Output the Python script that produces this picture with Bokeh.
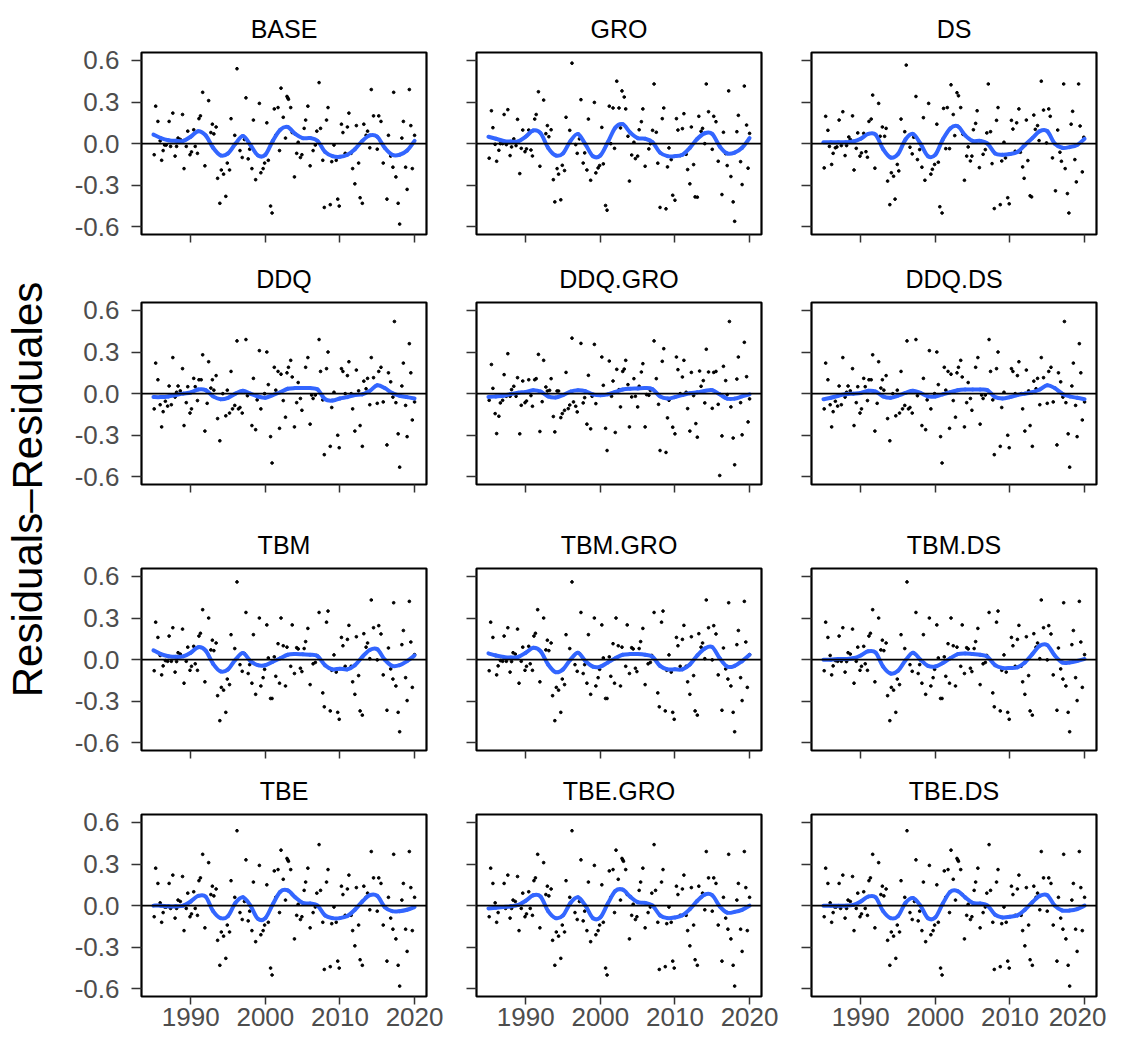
import math
from bokeh.plotting import figure
from bokeh.layouts import row, column
from bokeh.models import Range1d, Span, FixedTicker, Label, PrintfTickFormatter, CustomLabelingPolicy
from bokeh.embed import file_html
from bokeh.resources import INLINE

# ---------------- data ----------------
panel_names = [["BASE", "GRO", "DS"],
               ["DDQ", "DDQ.GRO", "DDQ.DS"],
               ["TBM", "TBM.GRO", "TBM.DS"],
               ["TBE", "TBE.GRO", "TBE.DS"]]
y_label_text = "Residuals\u2013Residuales"
y_ticks = [-0.6, -0.3, 0.0, 0.3, 0.6]
x_ticks = [1990, 2000, 2010, 2020]

# residual points (TBE.* panels look the same)
base_x = [1985.1, 1985.3, 1985.6, 1985.9, 1986.1, 1986.3, 1986.5, 1986.7, 1987.1, 1987.3, 1987.6, 1987.9,
          1988.1, 1988.3, 1988.6, 1988.9, 1989.1, 1989.4, 1989.6, 1989.9, 1990.1, 1990.4, 1990.6, 1990.9,
          1991.1, 1991.3, 1991.6, 1991.9, 1992.4, 1992.7, 1992.9, 1993.1, 1993.4, 1993.6, 1993.9, 1994.1,
          1994.4, 1994.7, 1994.9, 1995.2, 1995.4, 1995.9, 1996.2, 1996.6, 1996.9, 1997.2, 1997.4, 1997.7,
          1997.9, 1998.2, 1998.4, 1998.7, 1999.2, 1999.4, 1999.7, 1999.9, 2000.2, 2000.4, 2000.7, 2000.9,
          2001.2, 2001.4, 2001.7, 2001.9, 2002.1, 2002.4, 2002.7, 2002.9, 2003.0, 2003.1, 2003.4, 2003.6,
          2003.9, 2004.2, 2004.4, 2004.7, 2004.9, 2005.2, 2005.4, 2005.7, 2006.0, 2006.4, 2006.7, 2006.9,
          2007.2, 2007.4, 2007.7, 2007.9, 2008.2, 2008.4, 2008.7, 2008.9, 2009.2, 2009.5, 2009.7, 2009.9,
          2010.2, 2010.4, 2010.7, 2011.0, 2011.2, 2011.5, 2011.7, 2012.0, 2012.2, 2012.5, 2012.7, 2013.0,
          2013.2, 2013.5, 2013.7, 2014.0, 2014.2, 2014.5, 2015.0, 2015.2, 2015.5, 2015.8, 2016.3, 2016.5,
          2016.8, 2017.1, 2017.2, 2017.5, 2017.8, 2018.0, 2018.3, 2018.5, 2018.8, 2019.0, 2019.3, 2019.5,
          2019.7, 2020.0]
base_y = [-0.08, 0.27, 0.16, 0.02, -0.12, -0.05, -0.01, -0.01, 0.16, -0.02, 0.22, -0.09,
          -0.02, 0.04, 0.03, 0.21, -0.18, -0.02, 0.09, -0.08, -0.06, 0.10, -0.02, -0.07,
          0.18, 0.20, 0.37, -0.16, 0.31, 0.08, 0.14, 0.07, 0.12, -0.25, -0.43, -0.19,
          -0.22, -0.38, -0.14, -0.19, 0.18, 0.06, 0.54, -0.05, -0.10, 0.03, 0.33, -0.11,
          -0.04, -0.18, 0.17, -0.26, 0.29, -0.21, -0.18, -0.14, 0.15, -0.12, -0.45, -0.50,
          0.25, 0.06, 0.26, -0.05, 0.40, 0.19, 0.04, 0.34, 0.33, 0.32, 0.26, 0.08,
          -0.24, -0.07, 0.01, -0.10, -0.08, 0.11, 0.17, 0.27, -0.16, -0.05, -0.01, 0.09,
          0.44, 0.11, -0.12, -0.46, 0.17, 0.26, -0.44, -0.13, -0.01, -0.12, -0.40, -0.45,
          0.14, 0.08, -0.07, 0.12, 0.22, -0.07, -0.18, -0.29, 0.13, -0.14, -0.39, -0.43,
          0.14, 0.06, 0.09, -0.03, 0.39, 0.20, -0.04, 0.20, 0.16, -0.14, -0.40, 0.06,
          -0.09, -0.17, 0.37, -0.24, -0.43, -0.58, 0.04, 0.16, -0.17, -0.33, 0.39, 0.13,
          -0.18, 0.06]

# residual points
gro_x = [1985.1, 1985.4, 1985.6, 1985.9, 1986.1, 1986.4, 1986.6, 1986.9, 1987.1, 1987.4, 1987.6, 1987.9,
         1988.1, 1988.4, 1988.7, 1988.9, 1989.2, 1989.4, 1989.6, 1989.9, 1990.1, 1990.4, 1990.7, 1990.9,
         1991.2, 1991.4, 1991.7, 1991.9, 1992.4, 1992.7, 1992.9, 1993.1, 1993.4, 1993.7, 1993.9, 1994.2,
         1994.4, 1994.7, 1994.9, 1995.2, 1995.4, 1995.9, 1996.2, 1996.7, 1996.9, 1997.2, 1997.4, 1997.7,
         1997.9, 1998.2, 1998.4, 1998.7, 1999.2, 1999.4, 1999.7, 1999.9, 2000.2, 2000.4, 2000.7, 2000.9,
         2001.2, 2001.4, 2001.7, 2001.9, 2002.2, 2002.5, 2002.7, 2002.9, 2003.2, 2003.4, 2003.7, 2003.9,
         2004.2, 2004.5, 2004.7, 2005.0, 2005.2, 2005.5, 2005.7, 2006.0, 2006.5, 2006.7, 2007.0, 2007.2,
         2007.5, 2007.7, 2008.0, 2008.3, 2008.5, 2008.8, 2009.0, 2009.2, 2009.5, 2009.7, 2010.0, 2010.2,
         2010.4, 2010.7, 2011.0, 2011.2, 2011.5, 2011.7, 2012.0, 2012.2, 2012.5, 2012.7, 2013.0, 2013.2,
         2013.5, 2013.7, 2014.0, 2014.2, 2014.5, 2015.0, 2015.2, 2015.5, 2015.8, 2016.3, 2016.5, 2016.8,
         2017.0, 2017.2, 2017.5, 2017.8, 2018.0, 2018.3, 2018.5, 2018.8, 2019.0, 2019.3, 2019.6, 2019.8,
         2020.0]
gro_y = [-0.105, 0.237, 0.115, -0.005, -0.127, -0.048, 0.0, 0.0, 0.21, -0.007, 0.245, -0.086,
         -0.024, 0.034, -0.014, 0.175, -0.216, -0.034, 0.098, -0.058, -0.038, 0.098, -0.046, -0.089,
         0.177, 0.21, 0.374, -0.163, 0.314, 0.072, 0.13, 0.05, 0.10, -0.26, -0.42, -0.18,
         -0.22, -0.405, -0.156, -0.194, 0.19, 0.096, 0.58, -0.007, -0.07, 0.034, 0.317, -0.14,
         -0.067, -0.19, 0.177, -0.264, 0.297, -0.211, -0.175, -0.158, 0.117, -0.146, -0.446, -0.48,
         0.27, 0.0, 0.257, -0.034, 0.45, 0.257, 0.113, 0.38, 0.336, 0.25, 0.053, -0.27,
         -0.082, 0.01, -0.108, -0.09, 0.10, 0.158, 0.25, -0.163, -0.038, 0.0, 0.096, 0.43,
         0.082, -0.141, -0.46, 0.18, 0.257, -0.47, -0.168, -0.031, -0.115, -0.372, -0.408, 0.18,
         0.098, -0.086, 0.108, 0.216, -0.077, -0.187, -0.29, 0.12, -0.151, -0.384, -0.386, 0.197,
         0.089, 0.11, 0.0, 0.43, 0.23, -0.041, 0.197, 0.158, -0.127, -0.367, 0.082, -0.072,
         -0.158, 0.38, -0.237, -0.42, -0.56, 0.086, 0.204, -0.13, -0.295, 0.415, 0.134, -0.177,
         0.074]

# residual points
ds_x = [1985.1, 1985.3, 1985.6, 1985.8, 1986.1, 1986.3, 1986.6, 1986.8, 1987.1, 1987.4, 1987.6, 1987.9,
        1988.1, 1988.4, 1988.6, 1988.9, 1989.1, 1989.4, 1989.6, 1989.9, 1990.1, 1990.4, 1990.7, 1990.9,
        1991.1, 1991.4, 1991.6, 1991.9, 1992.4, 1992.6, 1992.9, 1993.2, 1993.4, 1993.6, 1993.9, 1994.1,
        1994.4, 1994.6, 1994.9, 1995.1, 1995.4, 1995.9, 1996.1, 1996.6, 1996.9, 1997.1, 1997.4, 1997.6,
        1997.9, 1998.2, 1998.4, 1998.6, 1999.1, 1999.4, 1999.6, 1999.9, 2000.2, 2000.4, 2000.6, 2000.9,
        2001.1, 2001.4, 2001.6, 2001.9, 2002.1, 2002.4, 2002.6, 2002.9, 2003.1, 2003.4, 2003.7, 2003.9,
        2004.2, 2004.4, 2004.7, 2004.9, 2005.1, 2005.4, 2005.6, 2005.9, 2006.4, 2006.7, 2006.9, 2007.1,
        2007.4, 2007.6, 2007.9, 2008.2, 2008.4, 2008.7, 2008.9, 2009.2, 2009.4, 2009.7, 2009.9, 2010.2,
        2010.4, 2010.7, 2010.9, 2011.2, 2011.4, 2011.7, 2011.9, 2012.2, 2012.4, 2012.7, 2012.9, 2013.2,
        2013.4, 2013.7, 2013.9, 2014.2, 2014.5, 2014.9, 2015.2, 2015.4, 2015.7, 2016.1, 2016.4, 2016.7,
        2016.9, 2017.2, 2017.4, 2017.7, 2017.9, 2018.2, 2018.4, 2018.7, 2018.9, 2019.2, 2019.4, 2019.7,
        2019.9]
ds_y = [-0.175, 0.197, 0.096, -0.02, -0.15, -0.07, -0.03, -0.024, 0.17, -0.014, 0.23, -0.086,
        -0.014, 0.048, 0.03, 0.20, -0.19, -0.034, 0.077, -0.09, -0.067, 0.074, -0.058, -0.098,
        0.16, 0.177, 0.35, -0.177, 0.29, 0.053, 0.12, 0.053, 0.11, -0.27, -0.44, -0.21,
        -0.235, -0.40, -0.15, -0.197, 0.177, 0.086, 0.566, -0.026, -0.074, 0.046, 0.34, -0.115,
        -0.043, -0.17, 0.187, -0.264, 0.29, -0.22, -0.185, -0.15, 0.14, -0.134, -0.455, -0.50,
        0.254, -0.036, 0.26, -0.036, 0.424, 0.21, 0.058, 0.367, 0.345, 0.26, 0.067, -0.264,
        -0.09, -0.024, -0.125, -0.09, 0.10, 0.146, 0.237, -0.173, -0.077, -0.043, 0.077, 0.43,
        0.086, -0.144, -0.468, 0.168, 0.26, -0.44, -0.125, 0.01, -0.103, -0.39, -0.434, 0.168,
        0.105, -0.055, 0.15, 0.25, -0.062, -0.168, -0.25, 0.17, -0.122, -0.376, -0.384, 0.206,
        0.103, 0.13, 0.022, 0.45, 0.242, 0.005, 0.25, 0.197, -0.103, -0.34, 0.098, -0.062,
        -0.127, 0.43, -0.18, -0.36, -0.50, 0.14, 0.233, -0.115, -0.276, 0.43, 0.127, -0.204,
        0.046]

# residual points (DDQ.DS looks the same)
ddq_x = [1985.1, 1985.3, 1985.6, 1985.9, 1986.1, 1986.3, 1986.6, 1986.9, 1987.1, 1987.4, 1987.6, 1987.9,
         1988.1, 1988.3, 1988.6, 1988.9, 1989.1, 1989.4, 1989.6, 1989.9, 1990.1, 1990.4, 1990.6, 1990.9,
         1991.1, 1991.4, 1991.6, 1991.9, 1992.2, 1992.4, 1992.7, 1992.9, 1993.1, 1993.4, 1993.6, 1993.9,
         1994.3, 1994.7, 1994.9, 1995.2, 1995.4, 1995.6, 1995.9, 1996.2, 1996.4, 1996.6, 1996.9, 1997.4,
         1997.6, 1998.2, 1998.4, 1998.7, 1998.9, 1999.2, 1999.4, 1999.9, 2000.2, 2000.4, 2000.7, 2000.9,
         2001.2, 2001.4, 2001.7, 2001.9, 2002.1, 2002.4, 2002.7, 2002.9, 2003.1, 2003.4, 2003.6, 2003.9,
         2004.2, 2004.4, 2004.7, 2004.9, 2005.4, 2005.7, 2006.0, 2006.2, 2006.4, 2006.7, 2007.2, 2007.4,
         2007.7, 2007.9, 2008.2, 2008.4, 2008.7, 2008.9, 2009.2, 2009.7, 2009.9, 2010.2, 2010.4, 2010.7,
         2011.0, 2011.2, 2011.5, 2011.7, 2012.0, 2012.2, 2012.5, 2012.7, 2013.0, 2013.2, 2013.5, 2013.7,
         2014.0, 2014.2, 2014.5, 2015.0, 2015.2, 2015.5, 2015.8, 2016.3, 2016.5, 2016.8, 2017.1, 2017.3,
         2017.5, 2017.8, 2018.0, 2018.3, 2018.5, 2018.8, 2019.0, 2019.3, 2019.5, 2019.7, 2020.0]
ddq_y = [-0.11, 0.22, 0.10, -0.08, -0.24, -0.13, -0.055, -0.09, 0.055, -0.08, 0.26, -0.025,
         0.01, 0.055, 0.02, 0.18, -0.23, -0.065, 0.05, -0.14, -0.11, 0.11, 0.05, -0.05,
         0.10, 0.10, 0.28, -0.27, -0.07, 0.23, 0.04, 0.10, 0.025, 0.13, -0.18, -0.34,
         0.0, -0.16, 0.025, -0.14, 0.16, -0.11, -0.085, 0.38, -0.11, -0.10, -0.14, 0.39,
         -0.015, -0.23, 0.11, -0.26, -0.045, 0.31, -0.11, 0.0, 0.30, 0.065, -0.31, -0.50,
         0.19, 0.025, 0.16, -0.25, 0.14, -0.05, -0.17, 0.15, 0.19, 0.24, 0.12, -0.24,
         -0.065, 0.08, -0.035, -0.12, 0.19, 0.26, -0.22, -0.01, -0.035, -0.01, 0.39, 0.16,
         -0.045, -0.44, 0.18, 0.30, -0.38, -0.10, 0.01, -0.30, -0.39, 0.18, 0.16, 0.0,
         0.13, 0.23, 0.0, -0.11, -0.27, 0.17, 0.02, -0.23, -0.38, 0.09, 0.035, 0.11,
         -0.08, 0.26, 0.115, -0.07, 0.16, 0.19, -0.06, -0.37, 0.15, 0.085, -0.025, 0.52,
         -0.065, -0.29, -0.53, 0.055, 0.22, -0.085, -0.31, 0.36, 0.15, -0.19, -0.06]

# residual points
ddqgro_x = [1985.1, 1985.4, 1985.6, 1985.9, 1986.1, 1986.4, 1986.6, 1986.9, 1987.1, 1987.4, 1987.6, 1987.9,
            1988.1, 1988.4, 1988.7, 1988.9, 1989.2, 1989.4, 1989.6, 1989.9, 1990.1, 1990.4, 1990.7, 1990.9,
            1991.2, 1991.4, 1991.7, 1991.9, 1992.2, 1992.4, 1992.7, 1992.9, 1993.2, 1993.4, 1993.7, 1993.9,
            1994.2, 1994.4, 1994.7, 1994.9, 1995.2, 1995.4, 1995.7, 1995.9, 1996.2, 1996.4, 1996.7, 1996.9,
            1997.4, 1997.7, 1997.9, 1998.2, 1998.4, 1998.7, 1998.9, 1999.2, 1999.4, 2000.2, 2000.4, 2000.7,
            2000.9, 2001.2, 2001.5, 2001.7, 2002.0, 2002.2, 2002.5, 2002.7, 2003.0, 2003.2, 2003.4, 2003.7,
            2003.9, 2004.2, 2004.5, 2004.7, 2005.0, 2005.2, 2005.5, 2005.7, 2006.0, 2006.2, 2006.5, 2006.7,
            2007.2, 2007.5, 2007.8, 2008.0, 2008.3, 2008.5, 2008.8, 2009.0, 2009.2, 2009.7, 2010.0, 2010.2,
            2010.4, 2010.7, 2011.0, 2011.2, 2011.5, 2011.7, 2012.0, 2012.2, 2012.5, 2012.8, 2013.0, 2013.3,
            2013.5, 2013.8, 2014.0, 2014.2, 2014.5, 2015.0, 2015.2, 2015.5, 2015.8, 2016.0, 2016.3, 2016.5,
            2016.8, 2017.0, 2017.3, 2017.5, 2017.8, 2018.0, 2018.3, 2018.5, 2018.8, 2019.0, 2019.3, 2019.6,
            2019.8, 2020.0]
ddqgro_y = [-0.048, 0.21, 0.038, -0.144, -0.288, -0.163, -0.067, -0.048, 0.137, -0.019, 0.288, -0.019,
            0.029, 0.053, -0.019, 0.115, -0.29, -0.084, 0.091, -0.065, -0.053, 0.10, -0.014, -0.091,
            0.10, 0.108, 0.283, -0.273, -0.058, 0.24, 0.048, 0.019, 0.024, 0.108, -0.165, -0.276,
            0.019, 0.019, -0.173, -0.144, -0.12, 0.153, -0.108, -0.082, 0.40, -0.06, -0.091, -0.132,
            0.362, -0.067, -0.029, -0.22, 0.132, -0.254, -0.019, 0.355, -0.072, 0.264, 0.06, -0.25,
            -0.41, 0.235, -0.019, 0.091, -0.28, 0.175, 0.029, -0.096, 0.16, 0.177, 0.24, 0.065,
            -0.24, -0.024, 0.108, -0.019, -0.096, 0.053, 0.156, 0.216, -0.24, -0.007, -0.012, 0.024,
            0.38, 0.108, -0.077, -0.41, 0.233, 0.324, -0.424, -0.175, -0.048, -0.242, -0.29, 0.264,
            0.173, 0.0, 0.12, 0.24, 0.01, -0.108, -0.27, 0.153, -0.014, -0.216, -0.314, 0.163,
            0.053, 0.094, -0.067, 0.32, 0.156, -0.106, 0.153, 0.16, -0.077, -0.59, -0.305, 0.197,
            0.094, -0.007, 0.52, -0.096, -0.32, -0.513, 0.105, 0.264, -0.065, -0.297, 0.37, 0.122,
            -0.204, -0.038]

# residual points (TBM.* panels look the same)
tbm_x = [1985.1, 1985.3, 1985.6, 1985.9, 1986.1, 1986.3, 1986.6, 1986.9, 1987.1, 1987.4, 1987.6, 1987.9,
         1988.1, 1988.3, 1988.6, 1988.9, 1989.1, 1989.4, 1989.6, 1989.9, 1990.1, 1990.4, 1990.6, 1990.9,
         1991.1, 1991.3, 1991.6, 1991.9, 1992.4, 1992.7, 1992.9, 1993.1, 1993.4, 1993.6, 1993.9, 1994.1,
         1994.4, 1994.7, 1994.9, 1995.2, 1995.4, 1995.9, 1996.2, 1996.6, 1996.9, 1997.2, 1997.4, 1997.7,
         1997.9, 1998.2, 1998.4, 1998.7, 1999.2, 1999.4, 1999.7, 1999.9, 2000.2, 2000.4, 2000.7, 2000.9,
         2001.2, 2001.4, 2001.7, 2001.9, 2002.1, 2002.4, 2002.7, 2002.9, 2003.4, 2003.6, 2003.9, 2004.2,
         2004.4, 2004.7, 2004.9, 2005.2, 2005.4, 2005.7, 2006.0, 2006.4, 2006.7, 2006.9, 2007.2, 2007.7,
         2007.9, 2008.2, 2008.4, 2008.7, 2008.9, 2009.2, 2009.5, 2009.7, 2009.9, 2010.2, 2010.4, 2010.7,
         2011.0, 2011.2, 2011.5, 2011.7, 2012.0, 2012.2, 2012.5, 2012.7, 2013.0, 2013.2, 2013.5, 2013.7,
         2014.0, 2014.2, 2014.5, 2015.0, 2015.2, 2015.5, 2015.8, 2016.3, 2016.5, 2016.8, 2017.1, 2017.2,
         2017.5, 2017.8, 2018.0, 2018.3, 2018.5, 2018.8, 2019.0, 2019.3, 2019.5, 2019.7, 2020.0]
tbm_y = [-0.08, 0.27, 0.16, 0.03, -0.11, -0.045, -0.007, -0.012, 0.17, -0.012, 0.23, -0.09,
         -0.014, 0.05, 0.04, 0.22, -0.17, -0.012, 0.09, -0.077, -0.048, 0.096, -0.03, -0.077,
         0.17, 0.19, 0.36, -0.16, 0.30, 0.07, 0.14, 0.065, 0.12, -0.26, -0.44, -0.20,
         -0.22, -0.38, -0.14, -0.18, 0.18, 0.08, 0.56, -0.036, -0.084, 0.043, 0.34, -0.10,
         -0.036, -0.17, 0.18, -0.25, 0.30, -0.19, -0.13, -0.07, 0.25, 0.012, -0.28, -0.28,
         0.02, -0.12, 0.115, -0.17, 0.30, 0.10, -0.19, 0.09, -0.048, 0.25, -0.10, 0.086,
         0.077, -0.062, -0.086, 0.08, 0.13, 0.225, -0.18, -0.03, -0.02, 0.03, 0.34, -0.24,
         -0.34, 0.27, 0.35, -0.37, -0.077, 0.034, -0.09, -0.38, -0.43, 0.16, 0.10, -0.048,
         0.146, 0.247, -0.048, -0.16, -0.25, 0.165, -0.115, -0.37, -0.40, 0.187, 0.09, 0.12,
         0.007, 0.43, 0.23, -0.002, 0.245, 0.185, -0.11, -0.365, 0.084, -0.067, -0.14, 0.41,
         -0.19, -0.38, -0.52, 0.108, 0.21, -0.13, -0.295, 0.42, 0.127, -0.20, 0.036]

# loess smooth (blue) read at each year
smooth_years = [1985, 1986, 1987, 1988, 1989, 1990, 1991, 1992, 1993, 1994, 1995, 1996,
                1997, 1998, 1999, 2000, 2001, 2002, 2003, 2004, 2005, 2006, 2007, 2008,
                2009, 2010, 2011, 2012, 2013, 2014, 2015, 2016, 2017, 2018, 2019, 2020]
smooth_base = [0.065, 0.04, 0.025, 0.02, 0.02, 0.05, 0.09, 0.06, -0.03, -0.085, -0.07, 0.0,
               0.055, -0.01, -0.085, -0.08, 0.02, 0.10, 0.12, 0.07, 0.04, 0.04, 0.02, -0.06,
               -0.09, -0.095, -0.08, -0.04, 0.02, 0.06, 0.05, -0.03, -0.08, -0.08, -0.05, 0.02]
smooth_gro = [0.05, 0.035, 0.02, 0.015, 0.017, 0.05, 0.095, 0.075, -0.03, -0.085, -0.07, 0.02,
              0.07, -0.005, -0.09, -0.085, 0.01, 0.115, 0.14, 0.08, 0.04, 0.035, 0.01, -0.065,
              -0.09, -0.09, -0.08, -0.03, 0.035, 0.075, 0.07, -0.02, -0.07, -0.065, -0.03, 0.04]
smooth_ds = [0.01, 0.01, 0.01, 0.01, 0.015, 0.035, 0.07, 0.065, -0.04, -0.10, -0.075, 0.03,
             0.07, 0.0, -0.09, -0.08, 0.03, 0.11, 0.125, 0.06, 0.02, 0.02, 0.0, -0.07,
             -0.08, -0.075, -0.06, -0.01, 0.04, 0.09, 0.09, 0.0, -0.03, -0.025, -0.01, 0.035]
smooth_ddq = [-0.025, -0.025, -0.02, -0.01, 0.0, 0.008, 0.03, 0.025, -0.02, -0.04, -0.03, 0.0,
              0.02, 0.0, -0.02, -0.03, -0.01, 0.01, 0.035, 0.04, 0.04, 0.04, 0.03, -0.04,
              -0.05, -0.035, -0.025, -0.01, -0.005, 0.02, 0.06, 0.04, 0.005, -0.015, -0.025, -0.035]
smooth_ddq_gro = [-0.024, -0.02, -0.015, -0.003, 0.007, 0.012, 0.025, 0.015, -0.02, -0.028, -0.01, 0.015,
                  0.024, 0.018, -0.005, -0.012, -0.005, 0.012, 0.03, 0.036, 0.037, 0.04, 0.032, -0.02,
                  -0.035, -0.025, -0.01, 0.003, 0.01, 0.02, 0.025, -0.005, -0.036, -0.036, -0.02, -0.005]
smooth_ddq_ds = [-0.04, -0.03, -0.015, -0.005, 0.0, 0.005, 0.02, 0.015, -0.02, -0.03, -0.015, 0.005,
                 0.02, 0.005, -0.02, -0.02, -0.005, 0.01, 0.025, 0.03, 0.03, 0.03, 0.025, -0.025,
                 -0.035, -0.025, -0.01, 0.0, 0.01, 0.03, 0.06, 0.04, 0.0, -0.02, -0.03, -0.04]
smooth_tbm = [0.067, 0.04, 0.025, 0.02, 0.024, 0.05, 0.09, 0.065, -0.03, -0.085, -0.07, 0.0,
              0.048, -0.01, -0.04, -0.04, -0.015, 0.01, 0.035, 0.04, 0.038, 0.036, 0.025, -0.04,
              -0.07, -0.065, -0.07, -0.04, 0.02, 0.07, 0.075, 0.0, -0.045, -0.04, -0.01, 0.03]
smooth_tbm_gro = [0.045, 0.03, 0.02, 0.015, 0.02, 0.05, 0.085, 0.06, -0.035, -0.09, -0.07, 0.0,
                  0.05, -0.01, -0.05, -0.05, -0.02, 0.01, 0.035, 0.04, 0.04, 0.035, 0.02, -0.045,
                  -0.07, -0.07, -0.07, -0.035, 0.03, 0.08, 0.09, 0.01, -0.05, -0.045, -0.01, 0.035]
smooth_tbm_ds = [0.0, 0.0, 0.005, 0.005, 0.01, 0.03, 0.06, 0.05, -0.05, -0.10, -0.08, -0.005,
                 0.05, 0.0, -0.045, -0.05, -0.025, 0.01, 0.04, 0.045, 0.04, 0.035, 0.02, -0.04,
                 -0.06, -0.06, -0.055, -0.02, 0.04, 0.10, 0.105, 0.03, -0.02, -0.02, -0.01, 0.005]
smooth_tbe = [0.0, 0.0, -0.005, -0.005, 0.0, 0.03, 0.07, 0.065, -0.04, -0.09, -0.075, 0.02,
              0.06, 0.0, -0.095, -0.09, 0.01, 0.10, 0.11, 0.06, 0.02, 0.015, 0.0, -0.07,
              -0.09, -0.09, -0.075, -0.03, 0.03, 0.075, 0.07, -0.01, -0.04, -0.04, -0.03, -0.01]
smooth_tbe_gro = [-0.02, -0.015, -0.01, -0.005, 0.005, 0.035, 0.075, 0.065, -0.04, -0.09, -0.07, 0.02,
                  0.06, 0.0, -0.09, -0.085, 0.015, 0.105, 0.115, 0.065, 0.025, 0.02, 0.0, -0.07,
                  -0.09, -0.085, -0.07, -0.025, 0.035, 0.08, 0.075, -0.005, -0.05, -0.045, -0.03, 0.0]
smooth_tbe_ds = [0.0, 0.0, 0.0, 0.0, 0.005, 0.03, 0.065, 0.06, -0.04, -0.09, -0.075, 0.02,
                 0.055, 0.0, -0.09, -0.085, 0.015, 0.10, 0.105, 0.06, 0.02, 0.015, 0.0, -0.065,
                 -0.085, -0.08, -0.07, -0.03, 0.025, 0.07, 0.075, 0.0, -0.035, -0.035, -0.025, 0.0]

panel_points = {
    "BASE": (base_x, base_y), "GRO": (gro_x, gro_y), "DS": (ds_x, ds_y),
    "DDQ": (ddq_x, ddq_y), "DDQ.GRO": (ddqgro_x, ddqgro_y), "DDQ.DS": (ddq_x, ddq_y),
    "TBM": (tbm_x, tbm_y), "TBM.GRO": (tbm_x, tbm_y), "TBM.DS": (tbm_x, tbm_y),
    "TBE": (base_x, base_y), "TBE.GRO": (base_x, base_y), "TBE.DS": (base_x, base_y),
}
panel_smooth = {
    "BASE": smooth_base, "GRO": smooth_gro, "DS": smooth_ds,
    "DDQ": smooth_ddq, "DDQ.GRO": smooth_ddq_gro, "DDQ.DS": smooth_ddq_ds,
    "TBM": smooth_tbm, "TBM.GRO": smooth_tbm_gro, "TBM.DS": smooth_tbm_ds,
    "TBE": smooth_tbe, "TBE.GRO": smooth_tbe_gro, "TBE.DS": smooth_tbe_ds,
}

# ---------------- styling / layout ----------------
FONT = "Liberation Sans"
FRAME_W, FRAME_H = 285, 182
LABEL_W = 68
col_left = [73, 25, 25]
col_right = [25, 25, 10]
row_top = [52, 52, 52, 52]
row_bottom = [16, 32, 12, 42]
TOTAL_H = sum(row_top) + sum(row_bottom) + 4 * FRAME_H
BLUE = "#3366FF"

hide_labels = CustomLabelingPolicy(code="return []")


def smooth_segments(xs, ys):
    """Catmull-Rom -> cubic Bezier pieces so the smooth curve is drawn round."""
    n = len(xs)
    out = {k: [] for k in ("x0", "y0", "x1", "y1", "cx0", "cy0", "cx1", "cy1")}
    for i in range(n - 1):
        xa, ya = xs[max(i - 1, 0)], ys[max(i - 1, 0)]
        xb, yb = xs[i], ys[i]
        xc, yc = xs[i + 1], ys[i + 1]
        xd, yd = xs[min(i + 2, n - 1)], ys[min(i + 2, n - 1)]
        out["x0"].append(xb); out["y0"].append(yb)
        out["x1"].append(xc); out["y1"].append(yc)
        out["cx0"].append(xb + (xc - xa) / 6.0); out["cy0"].append(yb + (yc - ya) / 6.0)
        out["cx1"].append(xc - (xd - xb) / 6.0); out["cy1"].append(yc - (yd - yb) / 6.0)
    return out


def make_panel(name, r, c):
    p = figure(frame_width=FRAME_W, frame_height=FRAME_H,
               x_range=Range1d(1983.4, 2021.6), y_range=Range1d(-0.655, 0.657),
               output_backend="svg", toolbar_location=None, title=name,
               min_border_left=col_left[c], min_border_right=col_right[c],
               min_border_top=row_top[r], min_border_bottom=row_bottom[r],
               background_fill_color="white", border_fill_color="white",
               outline_line_color="black", outline_line_width=2.2)
    p.title.align = "center"
    p.title.text_font = FONT
    p.title.text_font_size = "25px"
    p.title.text_font_style = "normal"
    p.title.text_color = "black"
    p.title.standoff = 20
    p.xgrid.visible = False
    p.ygrid.visible = False

    for ax in (p.xaxis[0], p.yaxis[0]):
        ax.axis_line_color = None
        ax.major_tick_line_color = "#333333"
        ax.major_tick_line_width = 1.5
        ax.major_tick_in = 0
        ax.minor_tick_line_color = None
        ax.major_label_text_color = "#4d4d4d"
        ax.major_label_text_font = FONT

    p.yaxis.ticker = FixedTicker(ticks=y_ticks, minor_ticks=[])
    p.yaxis.formatter = PrintfTickFormatter(format="%.1f")
    p.yaxis.major_tick_out = 10
    if c == 0:
        p.yaxis.major_label_text_font_size = "26px"
        p.yaxis.major_label_standoff = 12
    else:
        p.yaxis.major_label_text_font_size = "1px"
        p.yaxis.major_label_standoff = 0
        p.yaxis.major_label_policy = hide_labels

    p.xaxis.ticker = FixedTicker(ticks=x_ticks, minor_ticks=[])
    p.xaxis.major_tick_out = 8
    if r == 3:
        p.xaxis.major_label_text_font_size = "26px"
        p.xaxis.major_label_standoff = 3
    else:
        p.xaxis.major_label_text_font_size = "1px"
        p.xaxis.major_label_standoff = 0
        p.xaxis.major_label_policy = hide_labels

    px, py = panel_points[name]
    p.scatter(px, py, size=2.7, color="black")
    seg = smooth_segments(smooth_years, panel_smooth[name])
    p.bezier(x0=seg["x0"], y0=seg["y0"], x1=seg["x1"], y1=seg["y1"],
             cx0=seg["cx0"], cy0=seg["cy0"], cx1=seg["cx1"], cy1=seg["cy1"],
             line_color=BLUE, line_width=4, line_cap="round")
    p.add_layout(Span(location=0, dimension="width", line_color="black", line_width=1.8))
    return p


rows = []
for r, names in enumerate(panel_names):
    rows.append(row(*[make_panel(n, r, c) for c, n in enumerate(names)]))

lab = figure(frame_width=LABEL_W, frame_height=TOTAL_H, x_range=Range1d(0, 1), y_range=Range1d(0, 1),
             x_axis_type=None, y_axis_type=None, output_backend="svg", toolbar_location=None,
             min_border=0, outline_line_color=None, background_fill_color="white",
             border_fill_color="white")
lab.xgrid.visible = False
lab.ygrid.visible = False
lab.add_layout(Label(x=27 / LABEL_W, y=1 - 489 / TOTAL_H, text=y_label_text, angle=math.pi / 2,
                     text_align="center", text_baseline="middle", text_font=FONT,
                     text_font_size="42px", text_color="black"))

layout = row(lab, column(*rows))

with open("out.html", "w") as f:
    f.write(file_html(layout, INLINE))
